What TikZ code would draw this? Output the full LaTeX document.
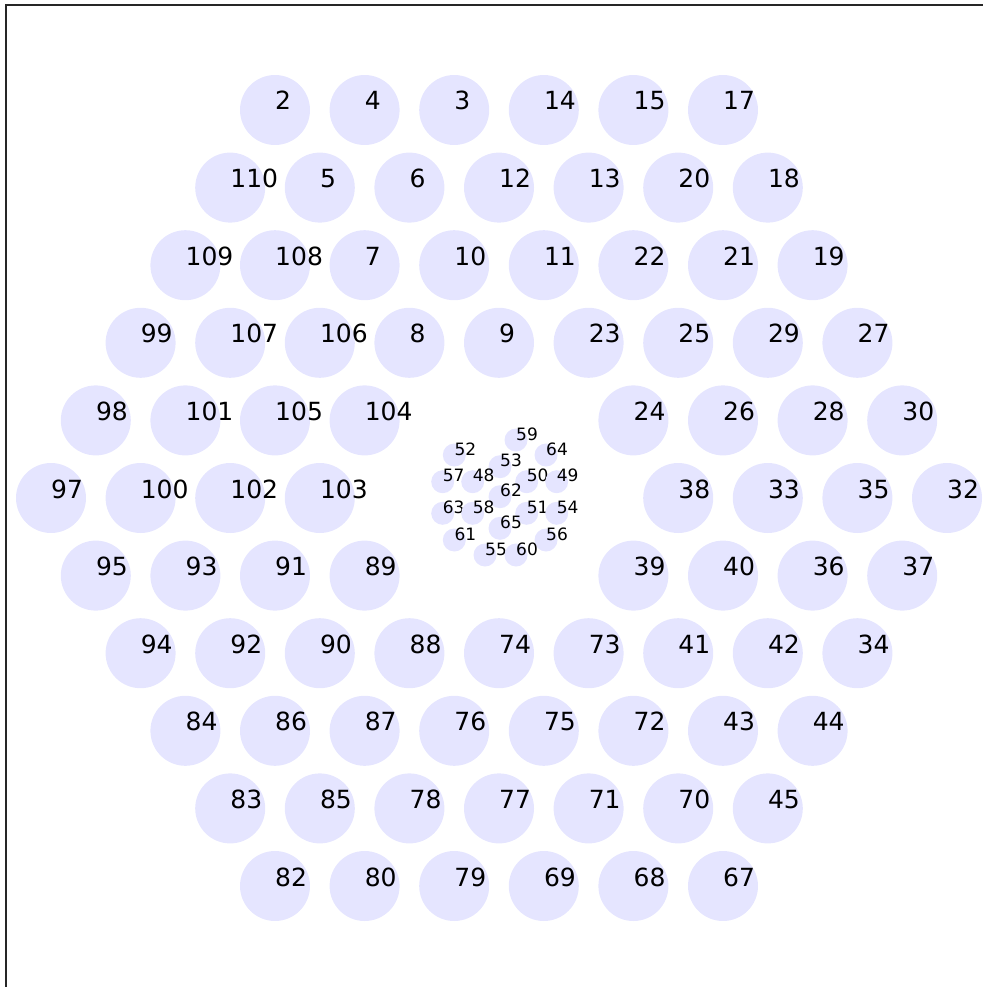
\documentclass[tikz,border=0pt]{standalone}
\usepackage{fontspec}
\setmainfont{DejaVu Sans}
\definecolor{disc}{RGB}{229,229,255}
\newcommand\mybig[3]{%
  \node[bigdisc] (n#1) at ({499+#2*89.6},{498+#3*77.6}) {};
  \node[biglab] (t#1) at (n#1.center) {#1};}
\newcommand\mysmall[3]{%
  \node[smalldisc] (s#1) at (#2,#3) {};
  \node[smalllab] (u#1) at (s#1.center) {#1};}
\begin{document}
\begin{tikzpicture}[x=1pt,y=-1pt,
  bigdisc/.style={circle,fill=disc,draw=none,minimum size=70pt,inner sep=0pt},
  smalldisc/.style={circle,fill=disc,draw=none,minimum size=23pt,inner sep=0pt},
  biglab/.style={anchor=base west,inner sep=0pt,font=\fontsize{25}{30}\selectfont},
  smalllab/.style={anchor=base west,inner sep=0pt,font=\fontsize{17}{20}\selectfont},
  spine/.style={line width=1.7pt,black!85}]
\useasboundingbox (0,0) rectangle (983,987);
% discs first
\mybig{2}{-2.5}{-5}\mybig{4}{-1.5}{-5}\mybig{3}{-0.5}{-5}\mybig{14}{0.5}{-5}\mybig{15}{1.5}{-5}\mybig{17}{2.5}{-5}
\mybig{110}{-3}{-4}\mybig{5}{-2}{-4}\mybig{6}{-1}{-4}\mybig{12}{0}{-4}\mybig{13}{1}{-4}\mybig{20}{2}{-4}\mybig{18}{3}{-4}
\mybig{109}{-3.5}{-3}\mybig{108}{-2.5}{-3}\mybig{7}{-1.5}{-3}\mybig{10}{-0.5}{-3}\mybig{11}{0.5}{-3}\mybig{22}{1.5}{-3}\mybig{21}{2.5}{-3}\mybig{19}{3.5}{-3}
\mybig{99}{-4}{-2}\mybig{107}{-3}{-2}\mybig{106}{-2}{-2}\mybig{8}{-1}{-2}\mybig{9}{0}{-2}\mybig{23}{1}{-2}\mybig{25}{2}{-2}\mybig{29}{3}{-2}\mybig{27}{4}{-2}
\mybig{98}{-4.5}{-1}\mybig{101}{-3.5}{-1}\mybig{105}{-2.5}{-1}\mybig{104}{-1.5}{-1}\mybig{24}{1.5}{-1}\mybig{26}{2.5}{-1}\mybig{28}{3.5}{-1}\mybig{30}{4.5}{-1}
\mybig{97}{-5}{0}\mybig{100}{-4}{0}\mybig{102}{-3}{0}\mybig{103}{-2}{0}\mybig{38}{2}{0}\mybig{33}{3}{0}\mybig{35}{4}{0}\mybig{32}{5}{0}
\mybig{95}{-4.5}{1}\mybig{93}{-3.5}{1}\mybig{91}{-2.5}{1}\mybig{89}{-1.5}{1}\mybig{39}{1.5}{1}\mybig{40}{2.5}{1}\mybig{36}{3.5}{1}\mybig{37}{4.5}{1}
\mybig{94}{-4}{2}\mybig{92}{-3}{2}\mybig{90}{-2}{2}\mybig{88}{-1}{2}\mybig{74}{0}{2}\mybig{73}{1}{2}\mybig{41}{2}{2}\mybig{42}{3}{2}\mybig{34}{4}{2}
\mybig{84}{-3.5}{3}\mybig{86}{-2.5}{3}\mybig{87}{-1.5}{3}\mybig{76}{-0.5}{3}\mybig{75}{0.5}{3}\mybig{72}{1.5}{3}\mybig{43}{2.5}{3}\mybig{44}{3.5}{3}
\mybig{83}{-3}{4}\mybig{85}{-2}{4}\mybig{78}{-1}{4}\mybig{77}{0}{4}\mybig{71}{1}{4}\mybig{70}{2}{4}\mybig{45}{3}{4}
\mybig{82}{-2.5}{5}\mybig{80}{-1.5}{5}\mybig{79}{-0.5}{5}\mybig{69}{0.5}{5}\mybig{68}{1.5}{5}\mybig{67}{2.5}{5}
% inner cluster
\mysmall{59}{516}{440}
\mysmall{52}{454.3}{455}\mysmall{64}{546}{455}
\mysmall{53}{500}{466.7}
\mysmall{57}{442.7}{481.7}\mysmall{48}{472.7}{481.7}\mysmall{50}{526.7}{481.7}\mysmall{49}{556.7}{481.7}
\mysmall{62}{500}{496.7}
\mysmall{63}{442.7}{513.3}\mysmall{58}{472.7}{513.3}\mysmall{51}{526.7}{513.3}\mysmall{54}{556.7}{513.3}
\mysmall{65}{500}{528.3}
\mysmall{61}{454.3}{540}\mysmall{56}{546}{540}
\mysmall{55}{485}{555}\mysmall{60}{516}{555}
% spines
\draw[spine] (6,987) -- (6,5) -- (983,5);
\end{tikzpicture}
\end{document}
